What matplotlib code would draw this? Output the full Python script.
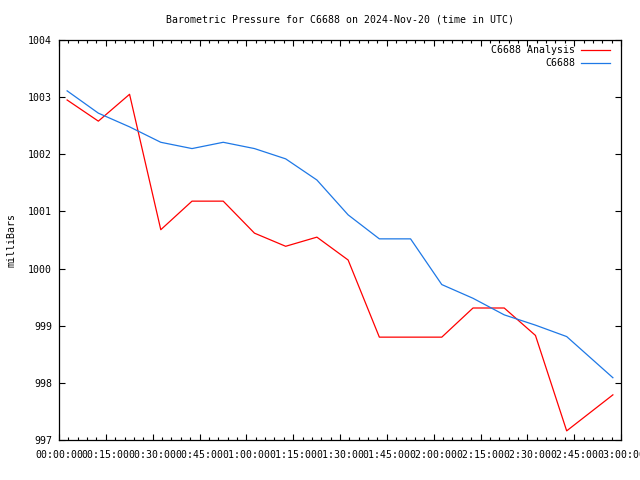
import matplotlib
matplotlib.use("Agg")
import matplotlib.pyplot as plt
from matplotlib.ticker import MultipleLocator, FuncFormatter

# time in minutes after 00:00:00 UTC
minutes = [2.6, 12.6, 22.6, 32.6, 42.6, 52.6, 62.6, 72.6, 82.6, 92.6,
           102.6, 112.6, 122.6, 132.6, 142.6, 152.6, 162.6, 177.4]
analysis = [1002.95, 1002.58, 1003.05, 1000.68, 1001.18, 1001.18, 1000.62, 1000.39,
            1000.55, 1000.15, 998.80, 998.80, 998.80, 999.31, 999.31, 998.83,
            997.16, 997.79]
observed = [1003.11, 1002.72, 1002.48, 1002.21, 1002.10, 1002.21, 1002.10, 1001.92,
            1001.55, 1000.94, 1000.52, 1000.52, 999.72, 999.48, 999.19, 999.01,
            998.81, 998.09]
series_names = ["C6688 Analysis", "C6688"]
title = "Barometric Pressure for C6688 on 2024-Nov-20 (time in UTC)"
ylabel = "milliBars"

plt.rcParams['font.family'] = ['DejaVu Sans Mono']
FS = 7.1

fig = plt.figure(figsize=(6.4, 4.8), dpi=100)
ax = fig.add_axes([59/640, 40/480, 562/640, 400/480])

ax.plot(minutes, analysis, color='#ff0000', lw=0.9, label=series_names[0])
ax.plot(minutes, observed, color='#1e78e6', lw=0.9, label=series_names[1])

ax.set_xlim(0, 180)
ax.set_ylim(997, 1004)
ax.xaxis.set_major_locator(MultipleLocator(15))
ax.xaxis.set_minor_locator(MultipleLocator(3))
ax.yaxis.set_major_locator(MultipleLocator(1))

def fmt_time(v, pos):
    m = int(round(v))
    return "%02d:%02d:00" % (m // 60, m % 60)

ax.xaxis.set_major_formatter(FuncFormatter(fmt_time))
ax.yaxis.set_major_formatter(FuncFormatter(lambda v, p: "%d" % round(v)))

ax.tick_params(axis='both', which='both', direction='in', top=True, right=True,
               labelsize=FS, width=0.8)
ax.tick_params(axis='both', which='major', length=4.5)
ax.tick_params(axis='x', which='minor', length=2.3)
ax.tick_params(axis='x', which='major', pad=7)
ax.tick_params(axis='y', which='major', pad=5)
for s in ax.spines.values():
    s.set_linewidth(0.9)

ax.set_title(title, fontsize=FS, pad=12.5)
ax.set_ylabel(ylabel, fontsize=FS, labelpad=8)

leg = ax.legend(loc='upper right', bbox_to_anchor=(0.9804, 0.9875), frameon=False,
                markerfirst=False, fontsize=FS, handlelength=2.95, handletextpad=0.6,
                borderaxespad=0, borderpad=0, labelspacing=0.32)
for t in leg.get_texts():
    t.set_ha('right')

fig.savefig("out.png", dpi=100)
